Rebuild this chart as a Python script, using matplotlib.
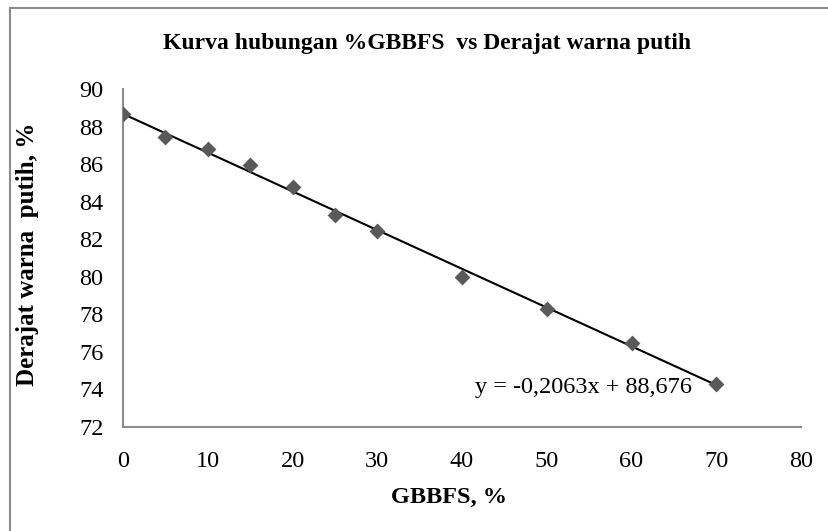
import numpy as np
import matplotlib.pyplot as plt
from matplotlib.lines import Line2D

# data
gbbfs = [0, 5, 10, 15, 20, 25, 30, 40, 50, 60, 70]
derajat_putih = [88.65, 87.45, 86.8, 85.95, 84.8, 83.3, 82.45, 80.0, 78.3, 76.5, 74.3]

# trendline from the printed equation
slope = -0.2063
intercept = 88.676

W, H = 829, 531
plt.rcParams['font.family'] = ['Liberation Serif', 'DejaVu Serif']

fig = plt.figure(figsize=(W / 100, H / 100), dpi=100)
ax = fig.add_axes([123 / W, 1 - 427 / H, (801 - 123) / W, (427 - 89) / H])

x_fit = np.array([gbbfs[0], gbbfs[-1]])
ax.plot(x_fit, slope * x_fit + intercept, color='black', lw=1.5, zorder=2)
ax.scatter(gbbfs, derajat_putih, marker='D', s=65, color='#595959', zorder=3,
           linewidths=0)

ax.set_xlim(0, 80)
ax.set_ylim(72, 90)
ax.set_xticks(range(0, 81, 10))
ax.set_yticks(range(72, 91, 2))
ax.tick_params(length=0, labelsize=17.5)
ax.tick_params(axis='x', pad=17)
ax.tick_params(axis='y', pad=14)
for s in ['top', 'right']:
    ax.spines[s].set_visible(False)
for s in ['left', 'bottom']:
    ax.spines[s].set_color('#8c8c8c')
    ax.spines[s].set_linewidth(1.5)

ax.text(67.1, 74.1, 'y = -0,2063x + 88,676', fontsize=17.5, ha='right', va='center')

fig.text(427 / W, 1 - 44 / H, 'Kurva hubungan %GBBFS  vs Derajat warna putih',
         fontsize=17, fontweight='bold', ha='center', va='center')
fig.text(449 / W, 1 - 497 / H, 'GBBFS, %', fontsize=17.5, fontweight='bold',
         ha='center', va='center')
fig.text(28 / W, 1 - 254 / H, 'Derajat warna  putih, %', fontsize=18,
         fontweight='bold', rotation=90, ha='center', va='center')

# chart frame: only the top and left edges are visible in the crop
fig.add_artist(Line2D([10.5 / W, 1], [1 - 8 / H, 1 - 8 / H], color='#8c8c8c', lw=1.5))
fig.add_artist(Line2D([10.5 / W, 10.5 / W], [0, 1 - 8 / H], color='#8c8c8c', lw=1.5))

fig.savefig('out.png', dpi=100)
